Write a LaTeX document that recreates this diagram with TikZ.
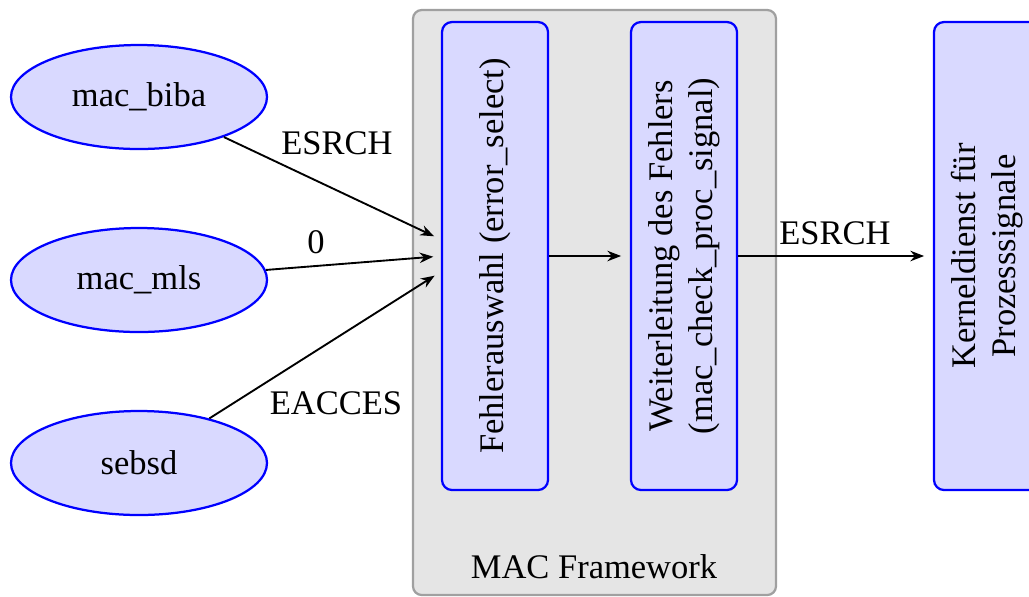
\documentclass[tikz,border=0pt]{standalone}
\IfFileExists{pplr8t.tfm}{\usepackage[T1]{fontenc}\renewcommand{\rmdefault}{ppl}}{\usepackage{fontspec}\setmainfont{Liberation Serif}}
\usetikzlibrary{shapes.geometric,arrows.meta}
\definecolor{boxfill}{RGB}{217,217,255}
\definecolor{frameborder}{RGB}{160,160,160}
\definecolor{framefill}{RGB}{229,229,229}
\begin{document}
\begin{tikzpicture}[x=0.4pt,y=-0.4pt,
  every node/.style={font=\fontsize{13.8}{16}\selectfont},
  modell/.style={ellipse,draw=blue,fill=boxfill,line width=0.9pt,minimum width=102.4pt,minimum height=41.6pt,inner sep=0pt},
  stufe/.style={rectangle,rounded corners=4pt,draw=blue,fill=boxfill,line width=0.9pt,minimum width=42.4pt,minimum height=187.2pt,inner sep=0pt},
  pfeil/.style={-{Stealth[length=5.5pt,width=4.2pt]},line width=0.75pt,shorten >=3.5pt},
  lbl/.style={inner sep=0pt}]
\useasboundingbox (0,0) rectangle (1029,596);
\draw[draw=frameborder,fill=framefill,line width=0.9pt,rounded corners=3.5pt] (413,10) rectangle (776,595);
\node[lbl] (fw) at (594,567) {MAC Framework};
\node[modell] (biba) at (139,97) {mac\_biba};
\node[modell] (mls) at (139,280) {mac\_mls};
\node[modell] (sebsd) at (139,463) {sebsd};
\node[stufe] (sel) at (495,256) {\rotatebox{90}{Fehlerauswahl (error\_select)}};
\node[stufe] (fwd) at (684,256) {\rotatebox{90}{\begin{tabular}{@{}c@{}}Weiterleitung des Fehlers\\(mac\_check\_proc\_signal)\end{tabular}}};
\node[stufe] (kern) at (987,256) {\rotatebox{90}{\begin{tabular}{@{}c@{}}Kerneldienst für\\Prozesssignale\end{tabular}}};
\coordinate (inA) at (442,240);
\coordinate (inB) at (442,256);
\coordinate (inC) at (442,271);
\draw[pfeil] (biba) -- (inA);
\draw[pfeil] (mls) -- (inB);
\draw[pfeil] (sebsd) -- (inC);
\draw[pfeil] (sel.east) -- (fwd.west);
\draw[pfeil] (fwd.east) -- (kern.west);
\node[lbl] (l1) at (337,143) {ESRCH};
\node[lbl] (l2) at (316,242) {0};
\node[lbl] (l3) at (336,403) {EACCES};
\node[lbl] (l4) at (835,233) {ESRCH};
\end{tikzpicture}
\end{document}
